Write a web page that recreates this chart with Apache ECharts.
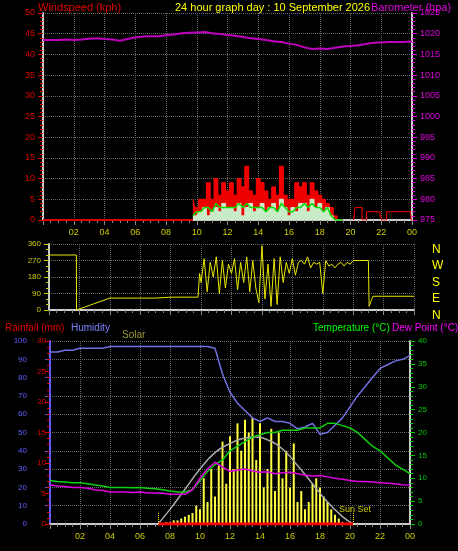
<!DOCTYPE html>
<html><head><meta charset="utf-8">
<script src="https://cdn.jsdelivr.net/npm/echarts@6/dist/echarts.min.js"></script>
<style>html,body{margin:0;background:#000}#c{width:458px;height:551px}</style>
</head><body><div id="c"></div>
<script>
const hours=[0,0.5,1,1.5,2,2.5,3,3.5,4,4.5,5,5.5,6,6.5,7,7.5,8,8.5,9,9.5,10,10.5,11,11.5,12,12.5,13,13.5,14,14.5,15,15.5,16,16.5,17,17.5,18,18.5,19,19.5,20,20.5,21,21.5,22,22.5,23,23.5,24];
const baro=[1018.5,1018.5,1018.5,1018.6,1018.5,1018.6,1018.8,1018.9,1018.7,1018.6,1018.3,1018.7,1019.1,1019.3,1019.4,1019.4,1019.6,1019.8,1020.1,1020.2,1020.3,1020.4,1020.1,1019.9,1019.7,1019.5,1019.2,1018.9,1018.7,1018.5,1018.2,1018,1017.6,1017.3,1016.7,1016.3,1016.4,1016.3,1016.6,1016.9,1017.0,1017.2,1017.5,1017.8,1017.9,1018.0,1018.0,1018.0,1018.2];
const windT=[9.75,10,10.25,10.5,10.75,11,11.25,11.5,11.75,12,12.25,12.5,12.75,13,13.25,13.5,13.75,14,14.25,14.5,14.75,15,15.25,15.5,15.75,16,16.25,16.5,16.75,17,17.25,17.5,17.75,18,18.25,18.5,18.75,19,19.25,19.5];
const gust=[5,3,5,5,9,5,10,6,9,7,9,6,10,8,13,7,6,10,9,7,5,8,6,13,6,5,5,9,8,9,6,9,7,6,5,4,3,1,0,0];
const avgW=[1,2,2,3,3,2,4,3,3,3,3,3,4,3,4,3,3,3,3,2,3,3,2,4,3,2,2,3,3,4,3,4,3,3,2,3,1,0,0,0];
const speedW=[1,1,2,3,1,2,3,2,4,3,3,2,4,1,3,4,2,3,4,2,3,4,2,5,3,1,3,2,4,4,2,5,3,4,2,3,1,0,0,0];
const lateT=[20.2,20.4,20.6,20.9,21.2,21.5,21.9,22.1,22.6,23,23.4,23.9,24];
const lateG=[0,3,3,0,2,2,2,0,2,2,2,2,0];
const dirT=[0,1.8,1.81,4,6,7,8,9,9.8,9.9,10,10.2,10.4,10.6,10.8,11,11.2,11.4,11.6,11.8,12,12.2,12.4,12.6,12.8,13,13.2,13.4,13.6,13.8,14,14.2,14.4,14.6,14.8,15,15.2,15.4,15.6,15.8,16,16.2,16.4,16.6,16.8,17,17.2,17.4,17.6,17.8,18,18.2,18.4,18.6,18.8,19,19.2,19.4,19.6,19.8,20,20.4,20.8,21,21.05,21.3,22,23,24];
const dirV=[300,300,0,65,65,65,70,70,70,200,150,280,100,260,180,290,90,270,120,250,200,280,110,260,150,290,100,270,120,40,350,60,250,20,280,30,290,150,260,200,280,190,260,270,250,290,230,260,250,260,90,270,240,250,230,250,260,240,260,250,270,270,270,270,20,75,75,75,75];
const hum=[94,94,95,95,96,96,96,96,97,97,97,97,97,97,97,97,97,97,97,97,97,97,96,82,72,66,62,58,56,58,56,56,55,52,53,55,49,50,54,58,64,70,75,80,85,87,89,90,92];
const temp=[9.5,9.3,9.2,9,9,8.8,8.5,8.3,8,8,8,7.9,8,7.8,7.7,7.5,7.2,7,7,7.5,9.5,11.5,13,14,16,17,18,19,19.5,20,20,20.5,20.5,20.5,21,21,21,22,22,21.5,21,20,18.5,17,16,14.5,13,12,11];
const dew=[8.5,8.3,8.2,8,8,7.8,7.5,7.3,7,7,7,6.9,7,6.8,6.8,6.7,6.5,6.5,6.5,7.5,10,12,13.5,12.5,11.5,11.8,12,11.6,11.3,11.4,11,11.2,11.3,11,10.7,10.5,10.6,10.3,10,9.8,9.5,9.3,9.3,9.2,9,8.9,8.8,8.6,8.5];
const solT=[7.5,7.75,8,8.25,8.5,8.75,9,9.25,9.5,9.75,10,10.25,10.5,10.75,11,11.25,11.5,11.75,12,12.25,12.5,12.75,13,13.25,13.5,13.75,14,14.25,14.5,14.75,15,15.25,15.5,15.75,16,16.25,16.5,16.75,17,17.25,17.5,17.75,18,18.25,18.5,18.75,19,19.25,19.5,19.75];
const solV=[0,1,1,2,2,3,4,5,6,10,8,25,12,30,15,32,45,22,48,30,55,40,57,50,58,35,55,20,30,52,18,50,25,40,20,44,12,18,8,12,22,25,20,15,12,8,5,3,1,0];
const theoT=[7.2,8,9,10,11,12,13,13.7,14.5,15.5,16.5,17.5,18.5,19.5,20.2];
const theoV=[0,8,19,30,39,44,47,47.5,46,41,32,22,12,4,0];
const rainT=[7.2,20.2];const rainV=[0,0];
const zip=(t,v)=>t.map((x,i)=>[x,v[i]]);
const hourLbl=v=>v===0?'':(v===24?'00':String(v).padStart(2,'0'));
const grid=[{left:43,right:46,top:13,height:207},{left:49,right:44,top:244,height:66},{left:50,right:48,top:341,height:183}];
const split={show:true,lineStyle:{color:'#666',type:'dotted'}};
const xA=(gi,show)=>({type:'value',gridIndex:gi,min:0,max:24,interval:2,splitLine:split,axisLine:{lineStyle:{color:'#ccc',width:2}},axisTick:{show:true,lineStyle:{color:'#888'}},minorTick:{show:true,splitNumber:4,lineStyle:{color:'#888'}},axisLabel:{show:show,color:'#cccc00',fontSize:9,formatter:hourLbl,margin:8}});
const yA=(o)=>Object.assign({type:'value',splitLine:{show:false},axisTick:{show:true,length:3},minorTick:{show:true,splitNumber:5,length:2},axisLine:{show:true,lineStyle:{width:2}},axisLabel:{fontSize:9}},o);
const plain=v=>String(v);
const opt={backgroundColor:'#000',animation:false,grid,
title:[
{text:'Windspeed (kph)',left:33,top:-3,textStyle:{color:'#e00000',fontSize:11,fontWeight:'normal'}},
{text:'24 hour graph day : 10 September 2026',left:170,top:-3,textStyle:{color:'#ffff00',fontSize:11,fontWeight:'normal'}},
{text:'Barometer (hpa)',left:366,top:-3,textStyle:{color:'#e000e0',fontSize:11,fontWeight:'normal'}},
{text:'N\nW\nS\nE\nN',left:427,top:236,textStyle:{color:'#ffff00',fontSize:12,fontWeight:'normal',lineHeight:16.5}},
{text:'Rainfall (mm)',left:0,top:318,textStyle:{color:'#e00000',fontSize:10,fontWeight:'normal'}},
{text:'Humidity',left:66,top:318,textStyle:{color:'#8080ff',fontSize:10,fontWeight:'normal'}},
{text:'Solar',left:117,top:325,textStyle:{color:'#999933',fontSize:10,fontWeight:'normal'}},
{text:'Temperature (°C)',left:308,top:318,textStyle:{color:'#00ff00',fontSize:10,fontWeight:'normal'}},
{text:'Dew Point (°C)',left:387,top:318,textStyle:{color:'#ff00ff',fontSize:10,fontWeight:'normal'}},
{text:'Sun Set',left:334,top:500,textStyle:{color:'#cccc00',fontSize:9,fontWeight:'normal'}}],
xAxis:[xA(0,true),xA(1,false),xA(2,true)],
yAxis:[
yA({gridIndex:0,min:0,max:50,interval:5,splitLine:split,axisLine:{lineStyle:{color:'#ccc',width:2}},axisLabel:{color:'#e00000',fontSize:9},axisTick:{lineStyle:{color:'#e00000'}},minorTick:{show:true,splitNumber:5,lineStyle:{color:'#e00000'}}}),
yA({gridIndex:0,position:'right',min:975,max:1025,interval:5,axisLine:{lineStyle:{color:'#ccc',width:2}},axisLabel:{color:'#e000e0',fontSize:9,formatter:plain},axisTick:{lineStyle:{color:'#e000e0'}},minorTick:{show:true,splitNumber:5,lineStyle:{color:'#e000e0'}}}),
yA({gridIndex:1,min:0,max:360,interval:90,splitLine:split,axisLine:{lineStyle:{color:'#ccc',width:2}},axisLabel:{color:'#cccc00',fontSize:8},axisTick:{lineStyle:{color:'#cccc00'}},minorTick:{show:true,splitNumber:3,lineStyle:{color:'#cccc00'}}}),
yA({gridIndex:2,position:'left',min:0,max:100,interval:10,offset:19,splitLine:split,axisLine:{lineStyle:{color:'#6060ff',width:2}},axisLabel:{color:'#6060ff',fontSize:8,margin:4},axisTick:{lineStyle:{color:'#6060ff'}},minorTick:{show:false}}),
yA({gridIndex:2,position:'left',min:0,max:30,interval:5,offset:0,axisLine:{show:false},axisLabel:{color:'#e00000',fontSize:8,margin:4},axisTick:{lineStyle:{color:'#e00000'}},minorTick:{show:true,splitNumber:5,lineStyle:{color:'#e00000'}}}),
yA({gridIndex:2,position:'right',min:0,max:40,interval:5,axisLine:{lineStyle:{color:'#ccc',width:2}},axisLabel:{color:'#00cc00',fontSize:8},axisTick:{lineStyle:{color:'#00cc00'}},minorTick:{show:true,splitNumber:5,lineStyle:{color:'#00cc00'}}})],
series:[
{type:'line',xAxisIndex:0,yAxisIndex:0,step:'middle',data:zip(windT,gust),symbol:'none',lineStyle:{color:'#ff0000',width:1},areaStyle:{color:'#ee0000',opacity:1}},
{type:'line',xAxisIndex:0,yAxisIndex:0,step:'middle',data:zip(lateT,lateG),symbol:'none',lineStyle:{color:'#ff0000',width:1}},
{type:'line',xAxisIndex:0,yAxisIndex:0,step:'middle',data:zip(windT,speedW),symbol:'none',lineStyle:{color:'#d0f0d0',width:1},areaStyle:{color:'#c8ecc8',opacity:1}},
{type:'line',xAxisIndex:0,yAxisIndex:0,data:zip(windT,avgW),symbol:'none',lineStyle:{color:'#00e000',width:1.5}},
{type:'line',xAxisIndex:0,yAxisIndex:0,data:[[0,0],[9.75,0]],symbol:'none',lineStyle:{color:'#e00000',width:2}},
{type:'line',xAxisIndex:0,yAxisIndex:1,data:zip(hours,baro),symbol:'none',lineStyle:{color:'#c000c0',width:2}},
{type:'line',xAxisIndex:1,yAxisIndex:2,data:zip(dirT,dirV),symbol:'none',lineStyle:{color:'#e8e800',width:1}},
{type:'bar',xAxisIndex:2,yAxisIndex:3,data:zip(solT,solV),barWidth:2,itemStyle:{color:'#ffff40'}},
{type:'line',xAxisIndex:2,yAxisIndex:3,data:zip(theoT,theoV),symbol:'none',smooth:true,lineStyle:{color:'#aaaaaa',width:1.5}},
{type:'line',xAxisIndex:2,yAxisIndex:3,data:zip(hours,hum),symbol:'none',lineStyle:{color:'#7070e0',width:1.5}},
{type:'line',xAxisIndex:2,yAxisIndex:5,data:zip(hours,temp),symbol:'none',lineStyle:{color:'#10d010',width:1.5}},
{type:'line',xAxisIndex:2,yAxisIndex:5,data:zip(hours,dew),symbol:'none',lineStyle:{color:'#e000e0',width:1.5}},
{type:'line',xAxisIndex:2,yAxisIndex:4,data:zip(rainT,rainV),symbol:'none',lineStyle:{color:'#ff0000',width:3},
 markLine:{silent:true,symbol:'none',label:{show:false},lineStyle:{color:'#ffff00',type:'dotted',width:1},data:[[{coord:[7.2,0]},{coord:[7.2,2]}],[{coord:[20.2,0]},{coord:[20.2,2]}]]}}
]};
echarts.init(document.getElementById('c')).setOption(opt);
</script></body></html>
